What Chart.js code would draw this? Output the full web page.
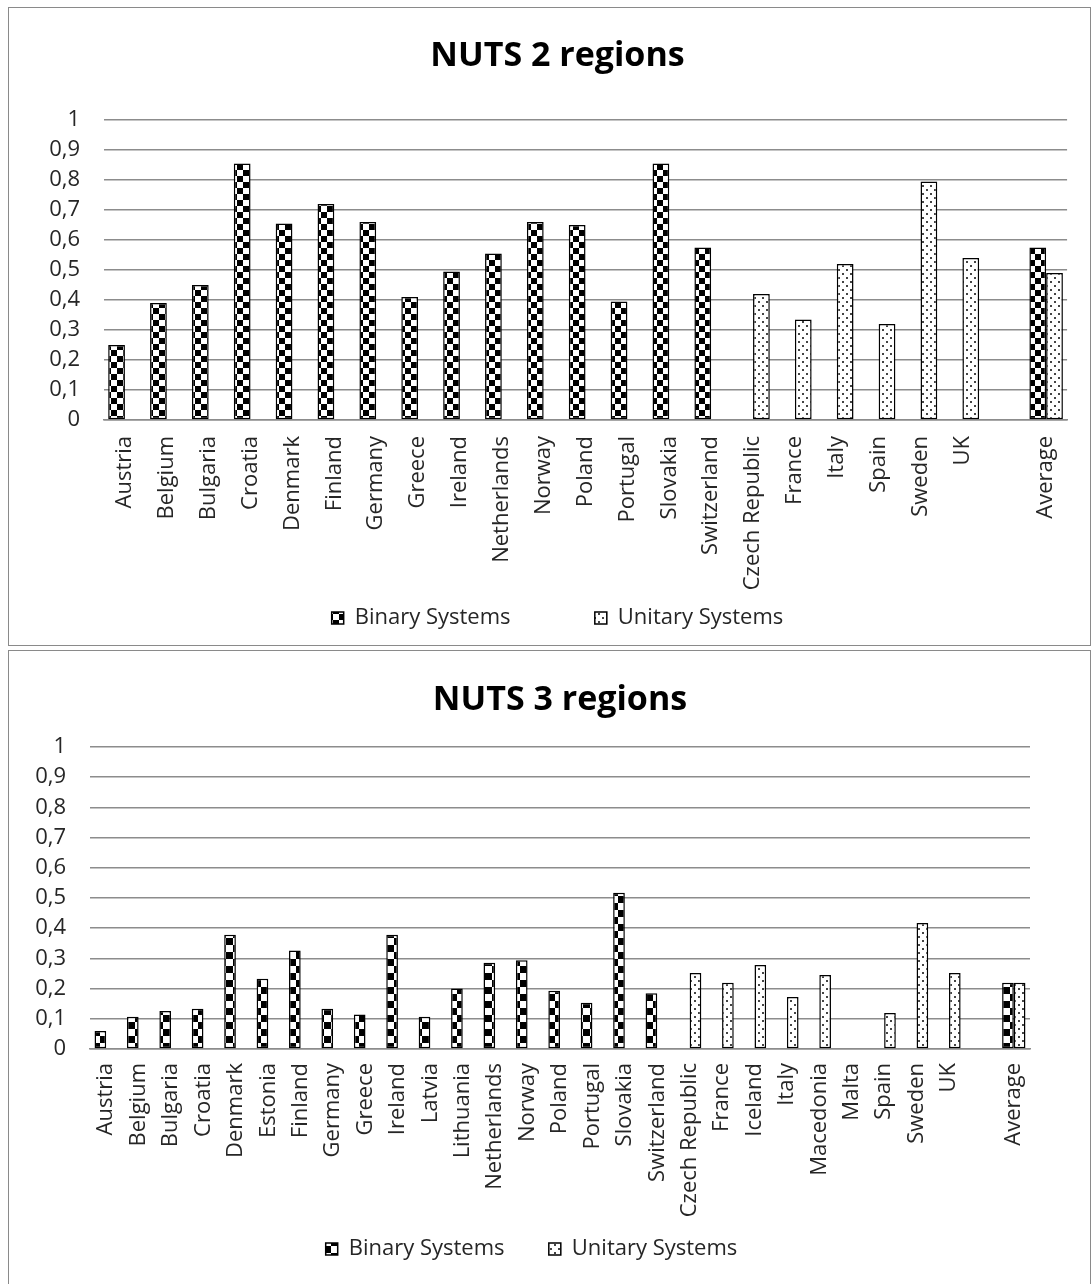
<!DOCTYPE html>
<html>
<head>
<meta charset="utf-8">
<script src="https://cdn.jsdelivr.net/npm/chart.js@4.4.1/dist/chart.umd.min.js"></script>
<style>
  html, body { margin: 0; padding: 0; background: #fff; }
  body { width: 1092px; height: 1284px; position: relative; overflow: hidden; }
  .panel { position: absolute; left: 8px; width: 1083px; border: 1px solid #8a8a8a; background: #fff; box-sizing: border-box; }
  #panel2 { top: 7px; height: 639px; }
  #panel3 { top: 650px; height: 640px; }
  .panel canvas { display: block; }
</style>
</head>
<body>
<div class="panel" id="panel2"><canvas id="nuts2" width="1080" height="637"></canvas></div>
<div class="panel" id="panel3"><canvas id="nuts3" width="1080" height="636"></canvas></div>
<script>
// Share of regions per country, split by type of system
const seriesNames = ['Binary Systems', 'Unitary Systems'];
const yTickLabels = ['0', '0,1', '0,2', '0,3', '0,4', '0,5', '0,6', '0,7', '0,8', '0,9', '1'];

// NUTS 2 regions
const categoriesNuts2 = ['Austria', 'Belgium', 'Bulgaria', 'Croatia', 'Denmark', 'Finland', 'Germany', 'Greece',
  'Ireland', 'Netherlands', 'Norway', 'Poland', 'Portugal', 'Slovakia', 'Switzerland', 'Czech Republic',
  'France', 'Italy', 'Spain', 'Sweden', 'UK', '', 'Average'];
const binaryNuts2 = [0.25, 0.39, 0.45, 0.855, 0.655, 0.72, 0.66, 0.41, 0.495, 0.555, 0.66, 0.65, 0.395, 0.855, 0.575,
  null, null, null, null, null, null, null, 0.575];
const unitaryNuts2 = [null, null, null, null, null, null, null, null, null, null, null, null, null, null, null,
  0.42, 0.335, 0.52, 0.32, 0.795, 0.54, null, 0.49];

// NUTS 3 regions
const categoriesNuts3 = ['Austria', 'Belgium', 'Bulgaria', 'Croatia', 'Denmark', 'Estonia', 'Finland', 'Germany',
  'Greece', 'Ireland', 'Latvia', 'Lithuania', 'Netherlands', 'Norway', 'Poland', 'Portugal', 'Slovakia',
  'Switzerland', 'Czech Republic', 'France', 'Iceland', 'Italy', 'Macedonia', 'Malta', 'Spain', 'Sweden', 'UK',
  '', 'Average'];
const binaryNuts3 = [0.06, 0.107, 0.126, 0.133, 0.378, 0.233, 0.326, 0.133, 0.114, 0.378, 0.107, 0.2, 0.286, 0.294,
  0.193, 0.153, 0.517, 0.185, null, null, null, null, null, null, null, null, null, null, 0.219];
const unitaryNuts3 = [null, null, null, null, null, null, null, null, null, null, null, null, null, null, null, null,
  null, null, 0.252, 0.219, 0.278, 0.172, 0.245, null, 0.119, 0.417, 0.252, null, 0.219];

// Fill patterns: large checkerboard for binary, small dots for unitary
function checkerPattern(cell) {
  const c = document.createElement('canvas');
  c.width = c.height = cell * 2;
  const g = c.getContext('2d');
  g.fillStyle = '#fff';
  g.fillRect(0, 0, cell * 2, cell * 2);
  g.fillStyle = '#000';
  g.fillRect(0, 0, cell, cell);
  g.fillRect(cell, cell, cell, cell);
  return g.createPattern(c, 'repeat');
}
function dotPattern() {
  const c = document.createElement('canvas');
  c.width = c.height = 8;
  const g = c.getContext('2d');
  g.fillStyle = '#fff';
  g.fillRect(0, 0, 8, 8);
  g.fillStyle = '#444';
  g.fillRect(1, 1, 2, 2);
  g.fillRect(5, 5, 2, 2);
  return g.createPattern(c, 'repeat');
}

const FONT = '"Open Sans", "DejaVu Sans", sans-serif';
const TEXT = '#262626';
const GRID = '#8c8c8c';

function buildChart(id, o) {
  return new Chart(document.getElementById(id), {
    type: 'bar',
    data: {
      labels: o.labels,
      datasets: [
        { label: seriesNames[0], data: o.binary, backgroundColor: checkerPattern(o.cell),
          borderColor: '#000', borderWidth: 1.5, borderSkipped: false },
        { label: seriesNames[1], data: o.unitary, backgroundColor: dotPattern(),
          borderColor: '#000', borderWidth: 1.5, borderSkipped: false }
      ]
    },
    options: {
      responsive: false,
      animation: false,
      devicePixelRatio: 1,
      layout: { padding: { left: o.padL, right: o.padR, top: 0, bottom: o.padB } },
      datasets: { bar: { categoryPercentage: o.catPct, barPercentage: 1 } },
      plugins: {
        title: {
          display: true, text: o.title, color: '#000', fullSize: o.titleFull,
          font: { family: FONT, size: 34, weight: 'bold', lineHeight: 1.2 },
          padding: { top: o.titleTop, bottom: o.titleBottom }
        },
        legend: {
          position: 'bottom',
          labels: {
            boxWidth: 12, boxHeight: 12, padding: 10, color: TEXT,
            font: { family: FONT, size: 22 },
            // widen the gap after the first entry
            generateLabels: chart => {
              const items = Chart.defaults.plugins.legend.labels.generateLabels(chart);
              items[0].text += ' '.repeat(o.legendSpaces);
              return items;
            }
          }
        },
        tooltip: { enabled: false }
      },
      scales: {
        x: {
          grid: { display: false, drawTicks: false },
          border: { display: true, color: GRID, width: 1.5 },
          ticks: { autoSkip: false, minRotation: 90, maxRotation: 90, padding: o.xPad, color: TEXT,
            font: { family: FONT, size: 22 } },
          afterFit: s => { s.height = o.xHeight; }
        },
        y: {
          min: 0, max: 1,
          grid: { color: GRID, lineWidth: 1.5, drawTicks: false },
          border: { display: false },
          ticks: { stepSize: 0.1, padding: 24, color: TEXT, font: { family: FONT, size: 22 },
            callback: (v, i) => yTickLabels[i] },
          afterFit: s => { s.width = o.yWidth; }
        }
      }
    }
  });
}

buildChart('nuts2', {
  title: 'NUTS 2 regions', labels: categoriesNuts2, binary: binaryNuts2, unitary: unitaryNuts2,
  cell: 6, catPct: 0.8,
  padL: 38, padR: 21, padB: 6, yWidth: 57,
  titleFull: true, titleTop: 27.6, titleBottom: 43.6,
  legendSpaces: 13, xHeight: 177, xPad: 16
});

buildChart('nuts3', {
  title: 'NUTS 3 regions', labels: categoriesNuts3, binary: binaryNuts3, unitary: unitaryNuts3,
  cell: 7, catPct: 0.72,
  padL: 24, padR: 59, padB: 17, yWidth: 57,
  titleFull: false, titleTop: 28.6, titleBottom: 26.6,
  legendSpaces: 6, xHeight: 179, xPad: 14
});
</script>
</body>
</html>
